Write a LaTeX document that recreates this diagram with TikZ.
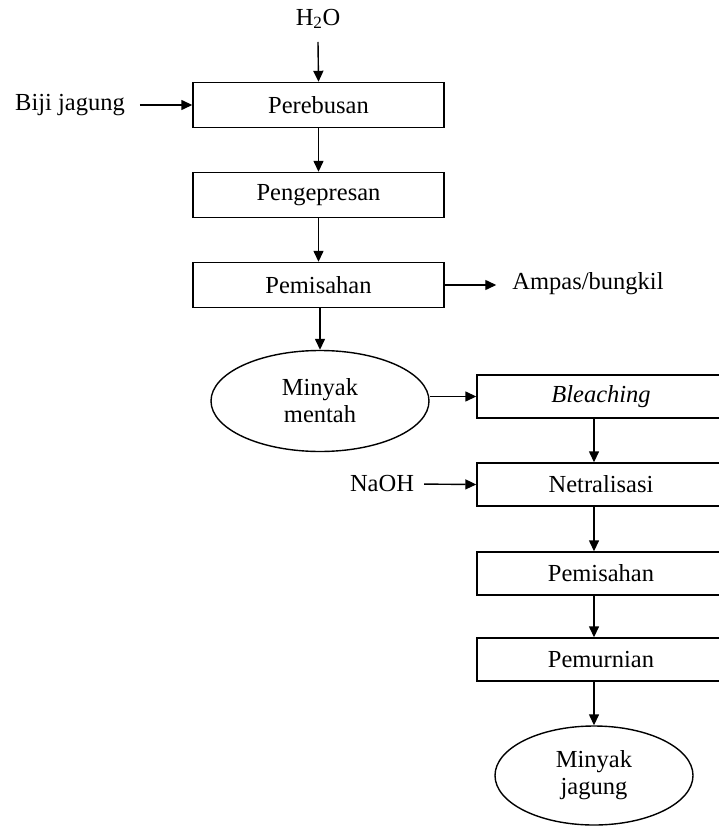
\documentclass[tikz,border=0pt]{standalone}
\usepackage{fontspec}
\setmainfont{Liberation Serif}
\usetikzlibrary{arrows.meta,shapes.geometric}
\begin{document}
\begin{tikzpicture}[x=1pt,y=-1pt,
  every node/.style={font=\fontsize{24.5}{27}\selectfont},
  procbox/.style={draw,line width=1.4pt,minimum width=251pt,minimum height=45pt,inner sep=0pt},
  rbox/.style={procbox,minimum width=248pt,minimum height=43pt},
  product/.style={draw,ellipse,line width=1.4pt,inner sep=0pt,align=center},
  tag/.style={inner sep=0pt},
  arr/.style={-{Triangle[length=11pt,width=10pt]},line width=1.4pt}]

\useasboundingbox (0,0) rectangle (719,826);
\clip (0,0) rectangle (719,826);

% main column
\node[tag] (h2o) at (318,19) {H\textsubscript{2}O};
\node[tag] (biji) at (70,105) {Biji jagung};
\node[procbox] (rebus) at (318.5,105) {Perebusan};
\node[procbox] (press) at (318.5,195) {Pengepresan};
\node[procbox] (pisah1) at (318.5,285) {Pemisahan};
\node[tag] (ampas) at (588,284) {Ampas/bungkil};
\node[product,minimum width=218pt,minimum height=101pt] (mentah) at (320,401) {Minyak\\mentah};

% refining column
\node[rbox] (bleach) at (601,396.5) {\itshape Bleaching};
\node[tag] (naoh) at (382,484) {NaOH};
\node[rbox] (netral) at (601,484.5) {Netralisasi};
\node[rbox] (pisah2) at (601,573.5) {Pemisahan};
\node[rbox] (murni) at (601,659.5) {Pemurnian};
\node[product,minimum width=198pt,minimum height=99pt] (jagung) at (594,775.5) {Minyak\\jagung};

% connectors
\coordinate (h2oin) at (318,42);
\draw[arr] (h2oin) -- (rebus.north);
\draw[arr,shorten <=15pt] (biji.east) -- (rebus.west);
\draw[arr] (rebus.south) -- (press.north);
\draw[arr] (press.south) -- (pisah1.north);
\draw[arr,shorten >=16pt] (pisah1.east) -- (ampas.west |- pisah1.east);
\draw[arr] (pisah1.south -| mentah.north) -- (mentah.north);
\draw[arr] (mentah.east |- bleach.west) -- (bleach.west);
\draw[arr] (bleach.south -| jagung.north) -- (netral.north -| jagung.north);
\draw[arr,shorten <=10pt] (naoh.east) -- (netral.west);
\draw[arr] (netral.south -| jagung.north) -- (pisah2.north -| jagung.north);
\draw[arr] (pisah2.south -| jagung.north) -- (murni.north -| jagung.north);
\draw[arr] (murni.south -| jagung.north) -- (jagung.north);
\end{tikzpicture}
\end{document}
